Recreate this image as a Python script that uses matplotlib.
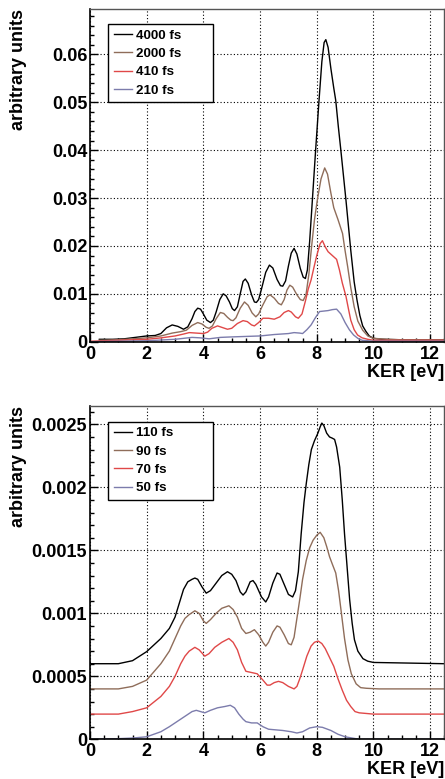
import matplotlib
matplotlib.use("Agg")
import matplotlib.pyplot as plt
from matplotlib.ticker import MultipleLocator, FixedLocator, FixedFormatter

plt.rcParams['font.family'] = ['Liberation Sans', 'DejaVu Sans']
plt.rcParams['font.weight'] = 'bold'

# ---------------- data: top panel (KER in eV, yield in arbitrary units) ----------------
top_labels = ["4000 fs", "2000 fs", "410 fs", "210 fs"]
top_x_4000 = [0.33, 0.8, 1.2, 1.6, 2.0, 2.3, 2.5, 2.7, 2.9, 3.1, 3.3, 3.45, 3.6, 3.7, 3.8, 3.9, 4.0, 4.12, 4.25,
              4.35, 4.45, 4.58, 4.7, 4.8, 4.92, 5.02, 5.1, 5.2, 5.3, 5.4, 5.48, 5.58, 5.7, 5.8, 5.87, 5.95,
              6.05, 6.2, 6.33, 6.45, 6.6, 6.72, 6.8, 6.9, 7.0, 7.1, 7.2, 7.3, 7.42, 7.52, 7.6, 7.67, 7.75,
              7.85, 7.96, 8.08, 8.18, 8.26, 8.32, 8.4, 8.5, 8.6, 8.67, 8.76, 8.85, 9.03, 9.2, 9.32, 9.42,
              9.52, 9.62, 9.73, 9.85, 10.0, 10.3, 11.0, 12.5]
top_y_4000 = [0.0005, 0.0005, 0.0006, 0.0009, 0.0012, 0.0013, 0.0017, 0.0029, 0.0035, 0.0032, 0.0026, 0.0031,
              0.0048, 0.0063, 0.0070, 0.0068, 0.0058, 0.0045, 0.0040, 0.0045, 0.0062, 0.0088, 0.0100, 0.0096,
              0.0083, 0.0069, 0.0065, 0.0073, 0.0100, 0.0126, 0.0131, 0.0122, 0.0098, 0.0083, 0.0082, 0.0088,
              0.0110, 0.0145, 0.0160, 0.0154, 0.0130, 0.0117, 0.0116, 0.0127, 0.0158, 0.0185, 0.0195, 0.0183,
              0.0153, 0.0135, 0.0132, 0.0150, 0.0210, 0.0300, 0.0400, 0.0504, 0.0585, 0.0625, 0.0631, 0.0615,
              0.0570, 0.0530, 0.0504, 0.0450, 0.0400, 0.0296, 0.0191, 0.0125, 0.0087, 0.0055, 0.0033, 0.0022,
              0.0012, 0.0007, 0.0005, 0.0004, 0.0004]
top_x_2000 = [0.33, 1.0, 1.5, 2.0, 2.5, 2.9, 3.2, 3.4, 3.6, 3.8, 3.95, 4.1, 4.2, 4.32, 4.45, 4.6, 4.72, 4.85,
              4.97, 5.05, 5.15, 5.3, 5.45, 5.58, 5.72, 5.85, 5.95, 6.1, 6.25, 6.35, 6.5, 6.65, 6.75, 6.85, 6.95,
              7.05, 7.15, 7.3, 7.42, 7.52, 7.62, 7.72, 7.82, 7.92, 8.02, 8.15, 8.28, 8.38, 8.5, 8.6, 8.75, 8.91,
              9.0, 9.09, 9.2, 9.32, 9.45, 9.62, 9.8, 10.0, 10.5, 11.0, 12.5]
top_y_2000 = [0.0003, 0.0004, 0.0006, 0.0008, 0.0012, 0.0018, 0.0021, 0.0024, 0.0034, 0.0040, 0.0037, 0.0030,
              0.0028, 0.0033, 0.0048, 0.0061, 0.0059, 0.0051, 0.0045, 0.0044, 0.0050, 0.0070, 0.0083, 0.0076,
              0.0060, 0.0052, 0.0058, 0.0077, 0.0094, 0.0098, 0.0091, 0.0080, 0.0077, 0.0088, 0.0108, 0.0118,
              0.0114, 0.0098, 0.0088, 0.0086, 0.0098, 0.0140, 0.0200, 0.0255, 0.0296, 0.0340, 0.0363, 0.0350,
              0.0310, 0.0280, 0.0255, 0.0226, 0.0190, 0.0157, 0.0113, 0.0073, 0.0043, 0.0024, 0.0012, 0.0007,
              0.0005, 0.0004, 0.0004]
top_x_410 = [0.0, 1.0, 2.0, 2.5, 3.0, 3.3, 3.5, 3.75, 4.0, 4.15, 4.3, 4.5, 4.65, 4.85, 5.0, 5.2, 5.4, 5.55, 5.7,
             5.8, 5.95, 6.1, 6.3, 6.5, 6.7, 6.85, 7.0, 7.1, 7.25, 7.35, 7.48, 7.6, 7.7, 7.8, 7.9, 8.0, 8.12,
             8.2, 8.3, 8.4, 8.55, 8.7, 8.8, 8.9, 9.03, 9.12, 9.2, 9.32, 9.44, 9.6, 9.8, 10.0, 12.5]
top_y_410 = [0.0001, 0.0003, 0.0005, 0.0008, 0.0012, 0.0016, 0.0019, 0.0018, 0.0017, 0.0020, 0.0028, 0.0033,
             0.0030, 0.0026, 0.0028, 0.0038, 0.0044, 0.0042, 0.0035, 0.0033, 0.0040, 0.0049, 0.0049, 0.0047,
             0.0052, 0.0061, 0.0065, 0.0062, 0.0052, 0.0049, 0.0058, 0.0085, 0.0110, 0.0129, 0.0155, 0.0180,
             0.0205, 0.0211, 0.0198, 0.0188, 0.0180, 0.0172, 0.0150, 0.0123, 0.0095, 0.0068, 0.0045, 0.0025,
             0.0014, 0.0008, 0.0005, 0.0003, 0.0003]
top_x_210 = [0.0, 1.0, 2.0, 3.0, 3.3, 3.6, 3.9, 4.2, 4.6, 5.0, 6.0, 6.5, 7.0, 7.2, 7.4, 7.5, 7.65, 7.8, 7.95,
             8.1, 8.25, 8.4, 8.55, 8.7, 8.85, 9.0, 9.15, 9.3, 9.45, 9.6, 10.0, 12.5]
top_y_210 = [0.0, 0.0001, 0.0002, 0.0005, 0.0007, 0.0009, 0.0008, 0.0006, 0.0009, 0.0010, 0.0012, 0.0015,
             0.0017, 0.0019, 0.0018, 0.0017, 0.0025, 0.0035, 0.0050, 0.0063, 0.0064, 0.0065, 0.0067, 0.0068,
             0.0058, 0.0040, 0.0025, 0.0014, 0.0007, 0.0003, 0.0001, 0.0001]

# ---------------- data: bottom panel ----------------
bot_labels = ["110 fs", "90 fs", "70 fs", "50 fs"]
bot_x_110 = [0.0, 1.0, 1.5, 2.0, 2.5, 2.8, 3.0, 3.15, 3.3, 3.45, 3.6, 3.7, 3.8, 3.95, 4.1, 4.25, 4.45, 4.65,
             4.85, 5.0, 5.15, 5.3, 5.4, 5.5, 5.65, 5.75, 5.85, 6.05, 6.2, 6.3, 6.45, 6.6, 6.7, 6.85, 7.0,
             7.15, 7.25, 7.35, 7.45, 7.55, 7.63, 7.72, 7.81, 7.92, 8.04, 8.12, 8.18, 8.25, 8.35, 8.45, 8.55,
             8.63, 8.7, 8.81, 8.9, 8.98, 9.07, 9.16, 9.25, 9.33, 9.45, 9.63, 9.8, 10.0, 12.5]
bot_y_110 = [0.0006, 0.0006, 0.000624, 0.000696, 0.0008, 0.00088, 0.00097, 0.00108, 0.00119, 0.00125,
             0.00127, 0.00128, 0.00127, 0.00121, 0.00116, 0.00118, 0.00124, 0.0013, 0.00133, 0.00131,
             0.00126, 0.00117, 0.001145, 0.00117, 0.00125, 0.00126, 0.00123, 0.00113, 0.00109, 0.00113,
             0.00124, 0.00132, 0.00131, 0.00123, 0.00115, 0.00113, 0.00118, 0.00133, 0.00163, 0.00188,
             0.00203, 0.00218, 0.0023, 0.00237, 0.00243, 0.00248, 0.00251, 0.00249, 0.00243, 0.0024,
             0.00239, 0.00238, 0.00232, 0.00216, 0.0019, 0.00163, 0.00137, 0.00111, 0.00092, 0.00079,
             0.0007, 0.00064, 0.00062, 0.00061, 0.0006]
bot_x_90 = [0.0, 1.0, 1.5, 2.0, 2.5, 2.8, 3.0, 3.2, 3.35, 3.5, 3.7, 3.85, 4.0, 4.1, 4.25, 4.45, 4.65, 4.9,
            5.05, 5.2, 5.35, 5.5, 5.65, 5.8, 5.95, 6.1, 6.2, 6.3, 6.45, 6.6, 6.7, 6.85, 7.0, 7.1, 7.2, 7.3,
            7.4, 7.5, 7.63, 7.75, 7.87, 8.0, 8.12, 8.25, 8.35, 8.45, 8.55, 8.67, 8.77, 8.87, 8.98, 9.1, 9.22,
            9.39, 9.55, 9.75, 10.2, 12.5]
bot_y_90 = [0.0004, 0.0004, 0.00042, 0.00047, 0.0006, 0.0007, 0.0008, 0.0009, 0.00096, 0.00099, 0.00102,
            0.001, 0.00094, 0.00092, 0.00095, 0.001, 0.00104, 0.00106, 0.00103, 0.00097, 0.00088, 0.00084,
            0.00085, 0.00087, 0.00083, 0.00077, 0.00074, 0.00077, 0.00085, 0.0009, 0.00089, 0.00083,
            0.00076, 0.00075, 0.00081, 0.00096, 0.00111, 0.00127, 0.00142, 0.00152, 0.00158, 0.00162,
            0.001643, 0.0016, 0.00153, 0.00145, 0.00139, 0.00132, 0.00118, 0.001, 0.0008, 0.00063, 0.00052,
            0.00044, 0.00041, 0.000405, 0.0004, 0.0004]
bot_x_70 = [0.0, 1.0, 1.5, 2.0, 2.5, 2.8, 3.0, 3.2, 3.35, 3.5, 3.7, 3.85, 4.05, 4.2, 4.4, 4.65, 4.9, 5.05, 5.2,
            5.35, 5.5, 5.7, 5.9, 6.1, 6.25, 6.35, 6.5, 6.65, 6.8, 7.0, 7.2, 7.3, 7.4, 7.5, 7.65, 7.8, 7.92,
            8.05, 8.18, 8.3, 8.45, 8.6, 8.75, 8.9, 9.05, 9.2, 9.35, 9.5, 10.0, 12.5]
bot_y_70 = [0.0002, 0.0002, 0.00022, 0.00025, 0.00034, 0.00042, 0.0005, 0.0006, 0.00066, 0.0007, 0.00073,
            0.00071, 0.00066, 0.00068, 0.00073, 0.00077, 0.0008, 0.00077, 0.00071, 0.00061, 0.00054, 0.00053,
            0.00052, 0.00047, 0.00043, 0.00043, 0.00045, 0.00046, 0.00045, 0.00042, 0.0004, 0.00042, 0.00048,
            0.00055, 0.00066, 0.00074, 0.00077, 0.00078, 0.00076, 0.00072, 0.00065, 0.00058, 0.00048,
            0.00039, 0.00031, 0.00026, 0.00022, 0.00021, 0.0002, 0.0002]
bot_x_50 = [0.0, 1.0, 1.5, 2.0, 2.5, 2.8, 3.0, 3.2, 3.4, 3.6, 3.75, 3.9, 4.05, 4.25, 4.5, 4.75, 4.95, 5.1, 5.25,
            5.4, 5.5, 5.7, 5.9, 6.1, 6.3, 6.8, 7.1, 7.3, 7.5, 7.75, 8.0, 8.2, 8.5, 8.75, 9.0, 9.25, 9.5, 10.0,
            12.5]
bot_y_50 = [0.0, 0.000005, 0.00001, 0.00002, 0.00006, 0.0001, 0.00013, 0.00016, 0.00019, 0.00022, 0.00023,
            0.00022, 0.00021, 0.00023, 0.00025, 0.00026, 0.00027, 0.00025, 0.0002, 0.00016, 0.00014, 0.00013,
            0.00013, 0.0001, 0.00008, 0.00007, 0.00006, 0.00005, 0.00006, 0.00009, 0.0001, 0.000095, 0.00007,
            0.00004, 0.00002, 0.00001, 0.0, 0.0, 0.0]

x_ticks = [0, 2, 4, 6, 8, 10, 12]
x_tick_labels = ["0", "2", "4", "6", "8", "10", "12"]
top_y_ticks = [0, 0.01, 0.02, 0.03, 0.04, 0.05, 0.06]
top_y_tick_labels = ["0", "0.01", "0.02", "0.03", "0.04", "0.05", "0.06"]
bot_y_ticks = [0, 0.0005, 0.001, 0.0015, 0.002, 0.0025]
bot_y_tick_labels = ["0", "0.0005", "0.001", "0.0015", "0.002", "0.0025"]

colors = ["#000000", "#8f6d5a", "#e04848", "#7c7cac"]

W, H = 445, 779
fig = plt.figure(figsize=(W / 100, H / 100), dpi=100)


def make_axes(top_px, bottom_px):
    left_px, right_px = 90, 444.3
    return fig.add_axes([left_px / W, 1 - bottom_px / H, (right_px - left_px) / W, (bottom_px - top_px) / H])


def style(ax, ymax, yticks, ylabels, yminor, xlabel_y):
    ax.set_xlim(0, 12.5)
    ax.set_ylim(0, ymax)
    ax.xaxis.set_major_locator(FixedLocator(x_ticks))
    ax.xaxis.set_major_formatter(FixedFormatter(x_tick_labels))
    ax.xaxis.set_minor_locator(MultipleLocator(0.5))
    ax.yaxis.set_major_locator(FixedLocator(yticks))
    ax.yaxis.set_major_formatter(FixedFormatter(ylabels))
    ax.yaxis.set_minor_locator(MultipleLocator(yminor))
    ax.tick_params(which='both', direction='in', top=False, right=False, width=1.0, color='black')
    ax.tick_params(which='major', length=5.5)
    ax.tick_params(which='minor', length=3.2)
    ax.tick_params(axis='x', which='major', labelsize=13, pad=3)
    ax.tick_params(axis='y', which='major', labelsize=13, pad=2)
    for lab in ax.get_xticklabels() + ax.get_yticklabels():
        lab.set_fontweight('bold')
    ax.grid(True, which='major', color='black', linestyle=(0, (1, 2)), linewidth=0.8)
    ax.set_axisbelow(True)
    for s in ['left', 'bottom']:
        ax.spines[s].set_color('black')
        ax.spines[s].set_linewidth(1.2)
    for s in ['top', 'right']:
        ax.spines[s].set_color('#555555')
        ax.spines[s].set_linewidth(1.0)
    ax.set_xlabel("KER [eV]", fontsize=13, fontweight='bold', ha='right', va='top')
    ax.xaxis.set_label_coords(1.0, xlabel_y)
    ax.set_ylabel("arbitrary units", fontsize=13, fontweight='bold')
    ax.yaxis.label.set_rotation_mode('anchor')
    ax.yaxis.label.set_ha('right')
    ax.yaxis.label.set_va('center')
    ax.yaxis.set_label_coords((18 - 90) / 354.3, 1.0)


# top panel
ax1 = make_axes(9, 341.7)
top_series = [(top_x_4000, top_y_4000), (top_x_2000, top_y_2000), (top_x_410, top_y_410), (top_x_210, top_y_210)]
for (xs, ys), c, lab in zip(top_series, colors, top_labels):
    ax1.plot(xs, ys, color=c, linewidth=1.0, label=lab, solid_joinstyle='round')
style(ax1, 0.0695, top_y_ticks, top_y_tick_labels, 0.002, -0.068)

# bottom panel
ax2 = make_axes(405.7, 739.3)
bot_series = [(bot_x_110, bot_y_110), (bot_x_90, bot_y_90), (bot_x_70, bot_y_70), (bot_x_50, bot_y_50)]
for (xs, ys), c, lab in zip(bot_series, colors, bot_labels):
    ax2.plot(xs, ys, color=c, linewidth=1.0, label=lab, solid_joinstyle='round')
style(ax2, 0.002648, bot_y_ticks, bot_y_tick_labels, 0.0001, -0.064)

for ax, ytop in [(ax1, 0.955), (ax2, 0.952)]:
    leg = ax.legend(loc='upper left', bbox_to_anchor=(0.0517, ytop - 0.24, 0.296, 0.24), mode='expand',
                    borderaxespad=0, prop={'weight': 'bold', 'size': 9.6},
                    handlelength=1.35, handletextpad=0.3, labelspacing=0.45, borderpad=0.4,
                    fancybox=False, framealpha=1, edgecolor='black')
    leg.get_frame().set_linewidth(1.0)

fig.savefig("out.png", dpi=100)
